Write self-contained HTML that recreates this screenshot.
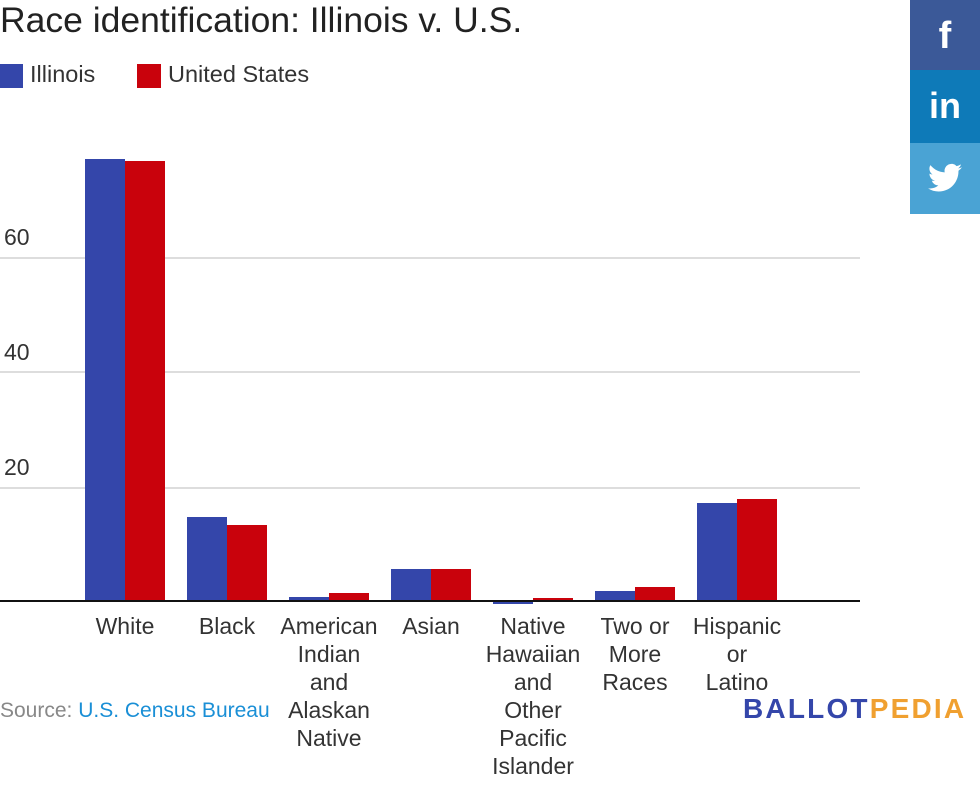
<!DOCTYPE html>
<html><head><meta charset="utf-8"><style>
body{margin:0;width:980px;height:804px;background:#fff;position:relative;overflow:hidden;font-family:"Liberation Sans",Arial,sans-serif;color:#333}
.a{position:absolute}
.g{position:absolute;left:0;width:860px;height:2px;background:#ddd}
.y{position:absolute;left:4px;font-size:23px;color:#333}
.b{position:absolute;width:40px}
.il{background:#3446aa}.us{background:#c9020c}
.l{position:absolute;width:130px;text-align:center;font-size:23px;line-height:28px;color:#333}
.s{position:absolute;left:910px;width:70px;color:#fff;text-align:center;font-weight:bold}
</style></head><body>
<div class="a" style="left:0;top:0px;font-size:35.5px;color:#222">Race identification: Illinois v. U.S.</div>
<div class="a il" style="left:0;top:64px;width:23px;height:24px"></div>
<div class="a" style="left:30px;top:61px;font-size:23.5px">Illinois</div>
<div class="a us" style="left:137px;top:64px;width:24px;height:24px"></div>
<div class="a" style="left:168px;top:61px;font-size:23.5px">United States</div>

<div class="g" style="top:257px"></div>
<div class="g" style="top:371px"></div>
<div class="g" style="top:487px"></div>
<div class="y" style="top:224px">60</div>
<div class="y" style="top:339px">40</div>
<div class="y" style="top:454px">20</div>

<div class="b il" style="left:85px;top:159px;height:442px"></div>
<div class="b us" style="left:125px;top:161px;height:440px"></div>
<div class="b il" style="left:187px;top:517px;height:84px"></div>
<div class="b us" style="left:227px;top:525px;height:76px"></div>
<div class="b il" style="left:289px;top:597px;height:4px"></div>
<div class="b us" style="left:329px;top:593px;height:8px"></div>
<div class="b il" style="left:391px;top:569px;height:32px"></div>
<div class="b us" style="left:431px;top:569px;height:32px"></div>
<div class="b il" style="left:493px;top:601px;height:3px"></div>
<div class="b us" style="left:533px;top:598px;height:3px"></div>
<div class="b il" style="left:595px;top:591px;height:10px"></div>
<div class="b us" style="left:635px;top:587px;height:14px"></div>
<div class="b il" style="left:697px;top:503px;height:98px"></div>
<div class="b us" style="left:737px;top:499px;height:102px"></div>
<div class="a" style="left:0;top:600px;width:860px;height:2px;background:#111"></div>

<div class="l" style="left:60px;top:612px">White</div>
<div class="l" style="left:162px;top:612px">Black</div>
<div class="l" style="left:264px;top:612px">American<br>Indian<br>and<br>Alaskan<br>Native</div>
<div class="l" style="left:366px;top:612px">Asian</div>
<div class="l" style="left:468px;top:612px">Native<br>Hawaiian<br>and<br>Other<br>Pacific<br>Islander</div>
<div class="l" style="left:570px;top:612px">Two or<br>More<br>Races</div>
<div class="l" style="left:672px;top:612px">Hispanic<br>or<br>Latino</div>

<div class="a" style="left:0;top:699px;font-size:21px;color:#888">Source: <span style="color:#1a8fd6">U.S. Census Bureau</span></div>
<div class="a" style="left:743px;top:693px;font-size:28px;font-weight:bold;letter-spacing:2.2px;color:#3446aa">BALLOT<span style="color:#f0a030">PEDIA</span></div>

<div class="s" style="top:0;height:70px;background:#3b5998;font-size:38px;line-height:72px">f</div>
<div class="s" style="top:70px;height:73px;background:#0e7ab8;font-size:36px;line-height:72px">in</div>
<div class="s" style="top:143px;height:71px;background:#4aa3d4">
<svg width="34" height="30" viewBox="0 0 24 20" style="margin-top:20px"><path fill="#fff" d="M24 2.4a9.8 9.8 0 0 1-2.8.8A4.9 4.9 0 0 0 23.3.4a9.9 9.9 0 0 1-3.1 1.2A4.9 4.9 0 0 0 11.800 6 14 14 0 0 1 1.7.9a4.9 4.9 0 0 0 1.5 6.6A4.9 4.9 0 0 1 1 6.9a4.9 4.9 0 0 0 3.9 4.9 4.9 4.9 0 0 1-2.2.1 4.9 4.9 0 0 0 4.6 3.4A9.9 9.9 0 0 1 0 17.3 14 14 0 0 0 7.5 19.5c9.1 0 14-7.5 14-14v-.6A10 10 0 0 0 24 2.4z"/></svg></div>
</body></html>
